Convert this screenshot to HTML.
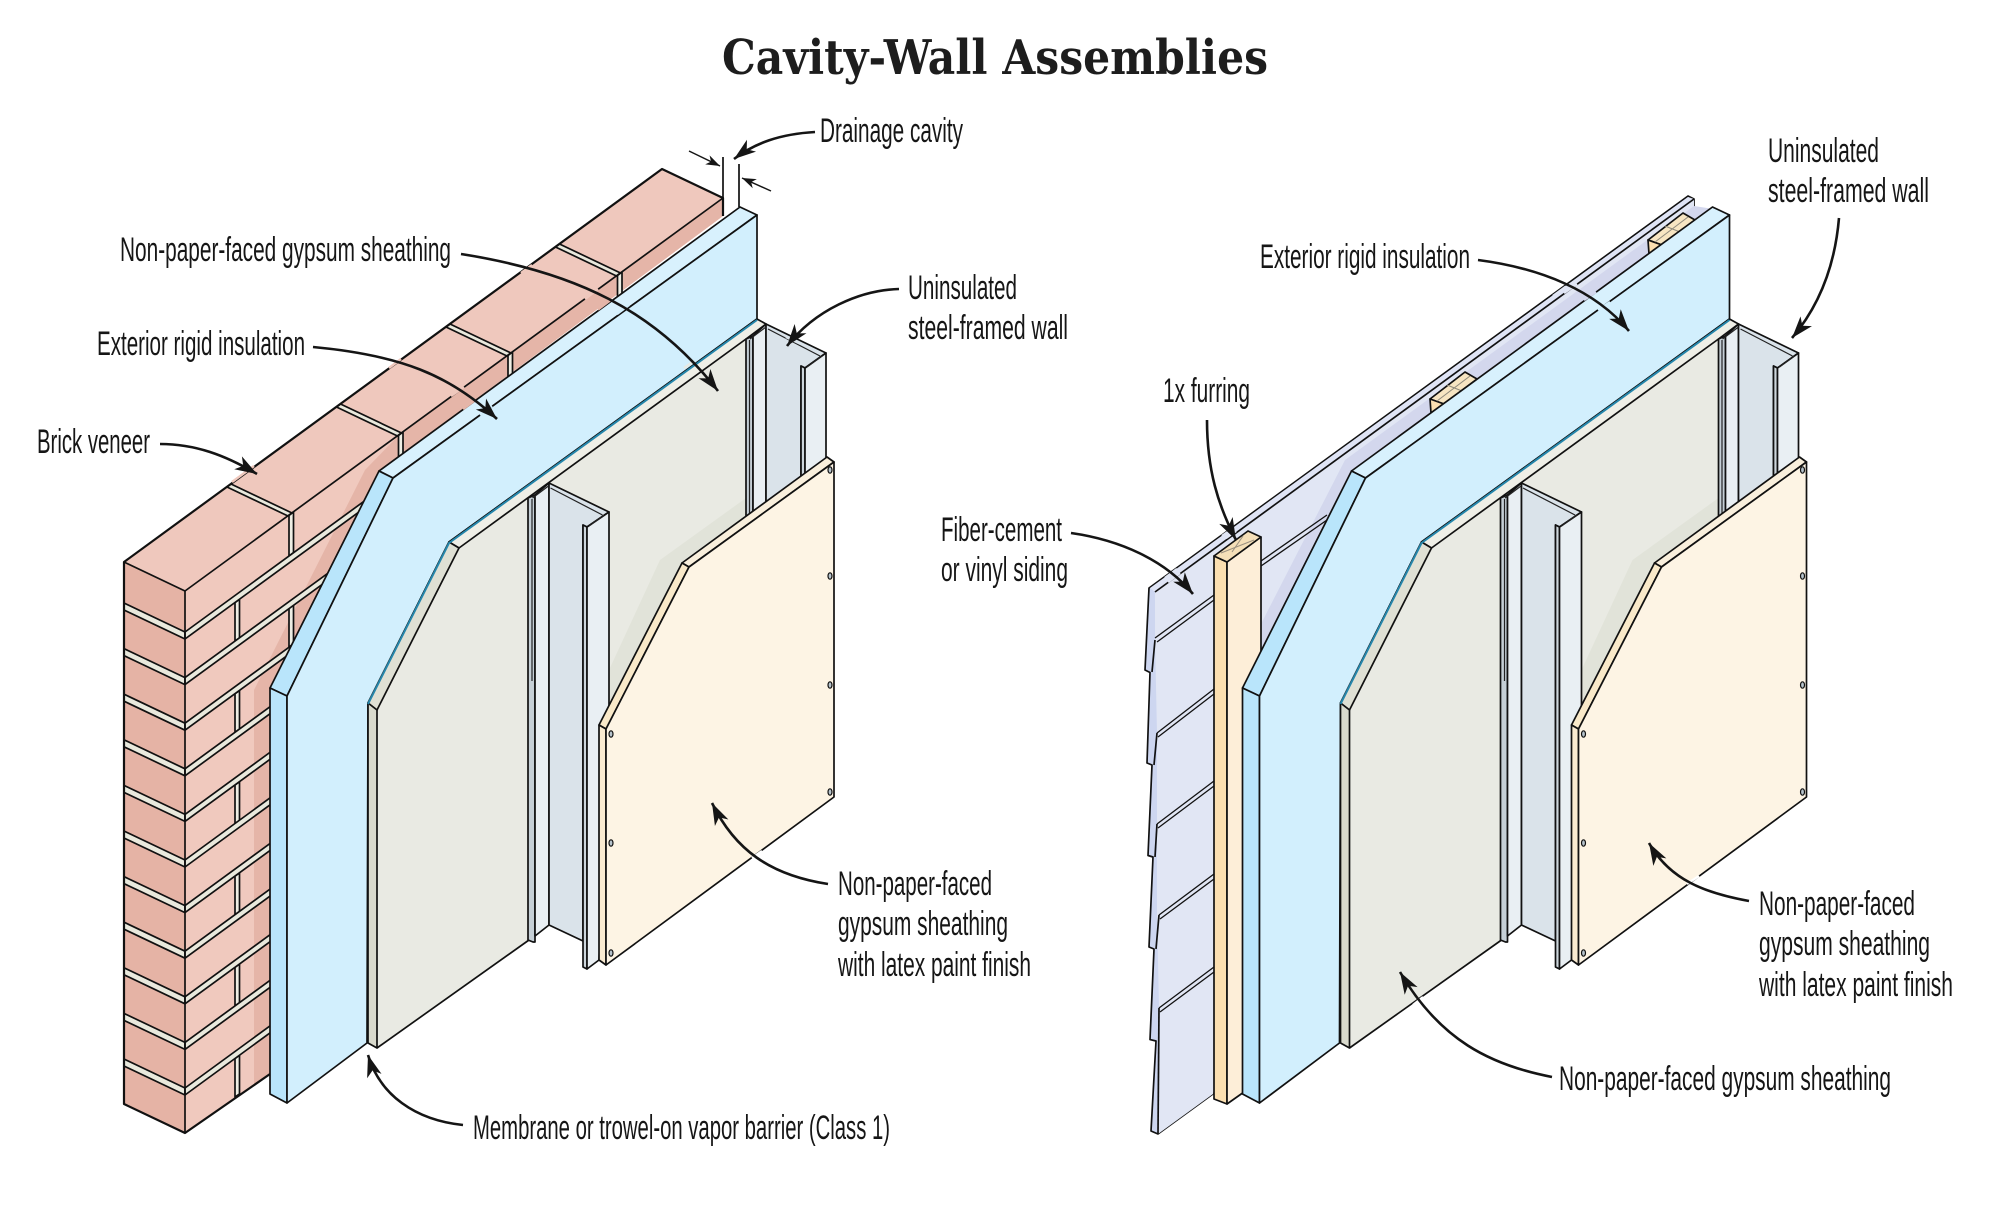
<!DOCTYPE html>
<html><head><meta charset="utf-8"><title>Cavity-Wall Assemblies</title>
<style>html,body{margin:0;padding:0;background:#fff}svg{display:block}
.l{font-family:"Liberation Sans Narrow","Liberation Sans",sans-serif;font-size:34px;fill:#161616}
.o{stroke:#111;stroke-width:1.7;stroke-linejoin:round}
.t{stroke:#222;stroke-width:1.2;fill:none}
.a{fill:none;stroke:#151515;stroke-width:2.6;marker-end:url(#ah)}
</style></head><body>
<svg xmlns="http://www.w3.org/2000/svg" width="1999" height="1225" viewBox="0 0 1999 1225">
<defs>
<marker id="ah" markerUnits="userSpaceOnUse" markerWidth="24" markerHeight="18" refX="22" refY="7.5" orient="auto" overflow="visible"><polygon points="22,7.5 0,0 6,7.5 0,15" fill="#151515"/></marker>
<marker id="as" markerUnits="userSpaceOnUse" markerWidth="16" markerHeight="12" refX="14" refY="5" orient="auto" overflow="visible"><polygon points="14,5 0,0 4,5 0,10" fill="#151515"/></marker>
<g id="j"><polygon class="o" fill="#e9e9dd" points="124,603 185,632 185,639 124,610"/><polygon class="o" fill="#e9e9dd" points="185,632 400,475 400,482 185,639"/></g>
<polygon id="h1" class="o" fill="#eeeee4" points="235,602.5 239.5,599.3 239.5,638 235,641"/>
<polygon id="h2" class="o" fill="#eeeee4" points="289,515.5 293.5,512 293.5,552.5 289,556"/>
<polygon id="tj" class="o" fill="#e9e9dd" points="231,484 292,513 288,516 227,487"/>
<g id="sl" class="t"><line x1="768" y1="329" x2="820" y2="356"/><line x1="750" y1="339" x2="766" y2="327"/><line x1="749.5" y1="340" x2="749.5" y2="522"/></g>
<g id="wall">
<!-- insulation -->
<polygon class="o" fill="#d8f1fd" points="740,207 757,215 393,478 379,471"/>
<polygon class="o" fill="#b9e5fb" points="379,471 393,478 287,696 270,688"/>
<polygon class="o" fill="#b9e5fb" points="270,688 287,696 287,1103 270,1094"/>
<polygon class="o" fill="#d2effd" points="393,478 757,215 757,319 449,542 368,703 367,1043 287,1103 287,696"/>
<!-- gypsum -->
<polygon fill="#e9eae3" points="459,548 746,339 746,530 609,730 600,800 560,880 529,920 529,940 377,1048 377,710"/>
<polygon fill="#e1e3d9" points="746,498 660,560 609,670 609,745 690,567 746,525"/>
<polyline fill="none" class="o" points="377,1048 529,940"/>
<polygon class="o" fill="#efefe7" points="449,542 757,319 766,324 746,339 459,548"/>
<polygon class="o" fill="#dfe0d4" points="449,542 459,548 377,710 368,703"/>
<polygon class="o" fill="#d9dacd" points="368,703 377,710 377,1048 368,1043"/>
<polyline fill="none" stroke="#2586ab" stroke-width="2" points="757,320 449,543 368,704"/>
<!-- far stud -->
<polygon class="o" fill="#c5cfd6" points="746,339 753,336 753,520 746,525"/>
<polygon class="o" fill="#e9eff3" points="753,336 766,324 766,505 753,516"/>
<polygon class="o" fill="#dae3ea" points="766,324 826,353 805,368 801,366 801,500 766,530"/>
<polygon class="o" fill="#cdd6dc" points="801,366 805,368 805,475 801,480"/>
<polygon class="o" fill="#e9eff3" points="805,368 826,353 826,470 805,485"/>
<use href="#sl"/>
<line class="t" x1="807" y1="367" x2="822" y2="356"/>
<!-- near stud -->
<polygon class="o" fill="#c5cfd6" points="528,498 535,495 535,942 533,942 528,940"/>
<polygon class="o" fill="#e9eff3" points="535,495 549,483 549,925 535,936"/>
<polygon class="o" fill="#dae3ea" points="549,483 609,512 587,527 583,525 583,941 549,925"/>
<polygon class="o" fill="#cdd6dc" points="583,525 587,527 587,969 583,967"/>
<polygon class="o" fill="#e9eff3" points="587,527 609,512 609,760 599,960 587,969"/>
<use href="#sl" transform="translate(-217.5,159)"/>
<line class="t" x1="589" y1="526" x2="604" y2="515"/>
<!-- cream -->
<polygon class="o" fill="#f9efdc" points="682,563 827,457 834,462 689,567"/>
<polygon class="o" fill="#f9e9c9" points="682,563 689,567 606,729 599,725"/>
<polygon class="o" fill="#f9ead0" points="599,725 606,729 606,965 599,960"/>
<polygon class="o" fill="#fdf4e4" points="689,567 834,462 834,797 606,965 606,729"/>
<g fill="#b6c3cc" stroke="#111" stroke-width="1.2">
<ellipse cx="830" cy="470" rx="2" ry="3.2"/><ellipse cx="830" cy="576" rx="2" ry="3.2"/><ellipse cx="830" cy="685" rx="2" ry="3.2"/><ellipse cx="830" cy="792" rx="2" ry="3.2"/>
<ellipse cx="611" cy="734" rx="2" ry="3.2"/><ellipse cx="611" cy="843" rx="2" ry="3.2"/><ellipse cx="611" cy="953" rx="2" ry="3.2"/>
</g>
</g>
</defs>
<rect width="1999" height="1225" fill="#fff"/>

<text x="722" y="74" font-family="'DejaVu Serif','Liberation Serif',serif" font-weight="700" font-size="48" fill="#1d1d1d" textLength="546" lengthAdjust="spacingAndGlyphs">Cavity-Wall Assemblies</text>

<!-- LEFT: brick -->
<polygon fill="#efc8bd" points="124,562 662,169 723,198 185,591"/>
<polygon fill="#e5b3a5" points="124,562 185,591 185,1133 124,1104"/>
<polygon fill="#f0c9be" points="185,591 723,198 723,216 379,471 270,688 270,1074 185,1133"/>
<polygon fill="#e5b5a8" points="723,198 723,216 379,471 270,688 270,1074 254,1086 254,690 365,470 397,437"/>
<use href="#h2"/>
<use href="#h2" transform="translate(0,91.2)"/>
<use href="#h2" transform="translate(109.5,-80)"/>
<use href="#h2" transform="translate(219,-160)"/>
<use href="#h2" transform="translate(328.5,-240)"/>
<use href="#h1"/><use href="#h1" transform="translate(0,91.2)"/><use href="#h1" transform="translate(0,182.4)"/><use href="#h1" transform="translate(0,273.6)"/><use href="#h1" transform="translate(0,364.8)"/><use href="#h1" transform="translate(0,456)"/>
<use href="#j"/><use href="#j" transform="translate(0,45.6)"/><use href="#j" transform="translate(0,91.2)"/><use href="#j" transform="translate(0,136.8)"/><use href="#j" transform="translate(0,182.4)"/><use href="#j" transform="translate(0,228)"/><use href="#j" transform="translate(0,273.6)"/><use href="#j" transform="translate(0,319.2)"/><use href="#j" transform="translate(0,364.8)"/><use href="#j" transform="translate(0,410.4)"/><use href="#j" transform="translate(0,456)"/>
<use href="#tj"/><use href="#tj" transform="translate(109.5,-80)"/><use href="#tj" transform="translate(219,-160)"/><use href="#tj" transform="translate(328.5,-240)"/>
<polyline fill="none" stroke="#111" stroke-width="2.2" stroke-linejoin="round" points="723,216 723,198 662,169 124,562 124,1104 185,1133 270,1074"/>
<polyline fill="none" class="o" points="124,562 185,591 723,198"/>
<line class="o" x1="185" y1="591" x2="185" y2="1133"/>
<use href="#wall"/>

<!-- RIGHT: siding -->
<polygon class="o" fill="#cdd6f0" points="1688,196 1694,199 1694,219 1400,450 1260,900 1213,1094 1158,1134 1151,1131 1156,1041 1150,1039.6 1154,949 1149,947 1153,857 1148,855.5 1152,765 1147,763 1150,672.5 1145,670 1149,588"/>
<polygon fill="#e1e6f4" points="1155,592 1694,199 1694,219 1400,450 1260,900 1213,1094 1158,1134 1159,1008 1157,915 1157,824 1157,733 1155,640"/>
<polygon fill="#dfe4f5" points="1150,588 1688,197 1694,199 1155,592"/>
<polygon fill="#d3d7ed" points="1694,206 1345,460 1262,622 1262,665 1360,480 1720,210"/>
<line class="o" x1="1155" y1="592" x2="1694" y2="199"/>
<g fill="none" class="o">
<polyline points="1155,640 1152,672"/><polyline points="1157,733 1154,765"/><polyline points="1157,824 1155,857"/><polyline points="1159,915 1156,949"/><polyline points="1159,1008 1158,1134"/>
</g>
<g stroke="#111" stroke-width="1.3">
<line x1="1155" y1="638" x2="1214" y2="595"/><line x1="1157" y1="642" x2="1214" y2="600"/>
<line x1="1157" y1="733" x2="1214" y2="689"/><line x1="1158" y1="737" x2="1214" y2="694"/>
<line x1="1157" y1="824" x2="1214" y2="781"/><line x1="1158" y1="828" x2="1214" y2="786"/>
<line x1="1159" y1="915" x2="1214" y2="874"/><line x1="1160" y1="919" x2="1214" y2="879"/>
<line x1="1159" y1="1008" x2="1214" y2="967"/><line x1="1160" y1="1012" x2="1214" y2="972"/>
<line x1="1261" y1="561" x2="1327" y2="515"/><line x1="1261" y1="566" x2="1327" y2="520"/>
</g>
<!-- small furring -->
<polygon class="o" fill="#f7e5c2" points="1648,240 1683,213 1695,220 1662,245"/><polygon class="o" fill="#fbdfb0" points="1648,240 1662,245 1649,254"/>
<g stroke="#8f8a7c" stroke-width="1"><line x1="1655" y1="242" x2="1688" y2="217"/><line x1="1665" y1="226" x2="1680" y2="232"/></g>
<polygon class="o" fill="#f7e5c2" points="1430,399 1465,372 1477,379 1444,404"/><polygon class="o" fill="#fbdfb0" points="1430,399 1444,404 1431,413"/>
<g stroke="#8f8a7c" stroke-width="1"><line x1="1437" y1="401" x2="1470" y2="376"/><line x1="1447" y1="385" x2="1462" y2="391"/></g>
<!-- tall furring -->
<polygon class="o" fill="#fbdfb0" points="1214,556 1227,562 1227,1104 1214,1099"/>
<polygon class="o" fill="#fdeed8" points="1227,562 1261,537 1261,1080 1227,1104"/>
<polygon class="o" fill="#f5dfb8" points="1214,556 1248,531 1261,537 1227,562"/>
<g stroke="#9a9080" stroke-width="1"><line x1="1221" y1="553" x2="1254" y2="540"/><line x1="1232" y1="552" x2="1243" y2="536"/></g>
<use href="#wall" transform="translate(972.5,0)"/>

<!-- line gaps where arrows cross -->
<g fill="none" stroke-width="2.4">
<line stroke="#efc8bd" x1="521" y1="273" x2="532" y2="265"/>
<line stroke="#efc8bd" x1="585" y1="299" x2="598" y2="289"/>
<line stroke="#e5b5a8" x1="598" y1="309.5" x2="610" y2="300.5"/>
<line stroke="#d2effd" x1="617" y1="314" x2="629" y2="305"/>
<line stroke="#e9eae3" x1="684" y1="368" x2="694" y2="361"/>
<line stroke="#efc8bd" x1="389" y1="368" x2="401" y2="359"/>
<line stroke="#efc8bd" x1="451" y1="396" x2="464" y2="387"/>
<line stroke="#e5b5a8" x1="463" y1="409" x2="474" y2="401"/>
<line stroke="#d2effd" x1="480" y1="415" x2="492" y2="406"/>
<line stroke="#efc8bd" x1="232" y1="482" x2="254" y2="466"/>
<line stroke="#dae3ea" x1="786" y1="337" x2="801" y2="344"/>
<line stroke="#fff" x1="752" y1="858" x2="762" y2="851"/>
<line stroke="#e1e6f4" x1="1553" y1="296" x2="1566" y2="286.5"/>
<line stroke="#e1e6f4" x1="1564" y1="293" x2="1577" y2="284"/>
<line stroke="#d3d7ed" x1="1584" y1="300" x2="1596" y2="292"/>
<line stroke="#d2effd" x1="1598" y1="310" x2="1610" y2="302"/>
<line stroke="#e1e6f4" x1="1222" y1="536" x2="1232" y2="529"/>
<line stroke="#e1e6f4" x1="1226" y1="538" x2="1236" y2="531"/>
<line stroke="#e1e6f4" x1="1165" y1="578" x2="1177" y2="569"/>
<line stroke="#e1e6f4" x1="1168" y1="582" x2="1180" y2="573"/>
<line stroke="#fff" x1="1687" y1="884" x2="1699" y2="876"/>
<line stroke="#fff" x1="1413" y1="1005" x2="1423" y2="997"/>
</g>

<!-- dimension -->
<line class="o" x1="723" y1="157" x2="723" y2="198"/>
<line class="o" x1="739" y1="164" x2="739" y2="207"/>
<path d="M689,151 L720,166" fill="none" stroke="#151515" stroke-width="1.5" marker-end="url(#as)"/>
<path d="M771,191 L742,178" fill="none" stroke="#151515" stroke-width="1.5" marker-end="url(#as)"/>

<!-- arrows -->
<path class="a" d="M815,132 C780,134 755,143 734,159"/>
<path class="a" d="M461,254 C575,272 655,310 718,391"/>
<path class="a" d="M313,347 C400,355 450,375 497,419"/>
<path class="a" d="M160,444 C195,444 225,455 257,474"/>
<path class="a" d="M899,289 C860,290 815,310 787,346"/>
<path class="a" d="M828,884 C770,875 735,850 712,803"/>
<path class="a" d="M463,1125 C415,1120 380,1095 368,1055"/>
<path class="a" d="M1839,218 C1835,265 1820,305 1792,338"/>
<path class="a" d="M1478,260 C1540,268 1595,290 1629,331"/>
<path class="a" d="M1207,420 C1207,470 1218,505 1236,540"/>
<path class="a" d="M1071,533 C1120,540 1165,560 1193,594"/>
<path class="a" d="M1749,901 C1705,893 1670,880 1649,843"/>
<path class="a" d="M1552,1077 C1490,1065 1440,1040 1400,972"/>

<!-- labels -->
<text class="l" x="820" y="142" textLength="143" lengthAdjust="spacingAndGlyphs">Drainage cavity</text>
<text class="l" x="120" y="261" textLength="331" lengthAdjust="spacingAndGlyphs">Non-paper-faced gypsum sheathing</text>
<text class="l" x="97" y="355" textLength="208" lengthAdjust="spacingAndGlyphs">Exterior rigid insulation</text>
<text class="l" x="37" y="453" textLength="113" lengthAdjust="spacingAndGlyphs">Brick veneer</text>
<text class="l" x="908" y="299" textLength="109" lengthAdjust="spacingAndGlyphs">Uninsulated</text>
<text class="l" x="908" y="339" textLength="160" lengthAdjust="spacingAndGlyphs">steel-framed wall</text>
<text class="l" x="838" y="895" textLength="154" lengthAdjust="spacingAndGlyphs">Non-paper-faced</text>
<text class="l" x="838" y="935" textLength="170" lengthAdjust="spacingAndGlyphs">gypsum sheathing</text>
<text class="l" x="838" y="976" textLength="193" lengthAdjust="spacingAndGlyphs">with latex paint finish</text>
<text class="l" x="473" y="1139" textLength="417" lengthAdjust="spacingAndGlyphs">Membrane or trowel-on vapor barrier (Class 1)</text>
<text class="l" x="1768" y="162" textLength="111" lengthAdjust="spacingAndGlyphs">Uninsulated</text>
<text class="l" x="1768" y="202" textLength="161" lengthAdjust="spacingAndGlyphs">steel-framed wall</text>
<text class="l" x="1260" y="268" textLength="210" lengthAdjust="spacingAndGlyphs">Exterior rigid insulation</text>
<text class="l" x="1163" y="402" textLength="87" lengthAdjust="spacingAndGlyphs">1x furring</text>
<text class="l" x="941" y="541" textLength="121" lengthAdjust="spacingAndGlyphs">Fiber-cement</text>
<text class="l" x="941" y="581" textLength="127" lengthAdjust="spacingAndGlyphs">or vinyl siding</text>
<text class="l" x="1759" y="915" textLength="156" lengthAdjust="spacingAndGlyphs">Non-paper-faced</text>
<text class="l" x="1759" y="955" textLength="171" lengthAdjust="spacingAndGlyphs">gypsum sheathing</text>
<text class="l" x="1759" y="996" textLength="194" lengthAdjust="spacingAndGlyphs">with latex paint finish</text>
<text class="l" x="1559" y="1090" textLength="332" lengthAdjust="spacingAndGlyphs">Non-paper-faced gypsum sheathing</text>
</svg>
</body></html>
